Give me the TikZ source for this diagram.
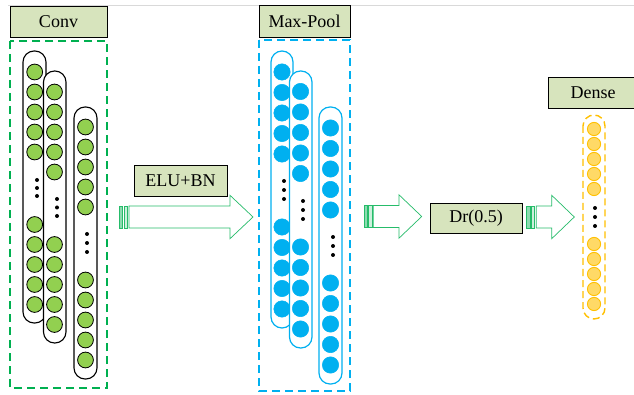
\documentclass[tikz,border=0pt]{standalone}
\usepackage{fontspec}
\setmainfont{Liberation Serif}
\definecolor{tagfill}{HTML}{D7E4BD}
\definecolor{neurgreen}{HTML}{92D050}
\definecolor{framegreen}{HTML}{00B050}
\definecolor{neurblue}{HTML}{00B0F0}
\definecolor{frameyellow}{HTML}{FFC000}
\definecolor{neuryellow}{HTML}{FFD966}
\definecolor{rulegray}{HTML}{D9D9D9}

% striped block arrow: #1 stripe start, #2 body start, #3 head base, #4 tip, #5 centre line
\newcommand{\stripedarrow}[5]{%
  \draw[blockarrow, fill=framegreen!45] (#1,#5-11) rectangle ++(3.4,22);
  \draw[blockarrow, fill=framegreen!20] (#1+4.7,#5-11) rectangle ++(3.4,22);
  \draw[blockarrow] (#2,#5-11) -- (#3,#5-11) -- (#3,#5-21.7) -- (#4,#5)
    -- (#3,#5+21.7) -- (#3,#5+11) -- (#2,#5+11) -- cycle;
}

\begin{document}
\begin{tikzpicture}[x=1pt,y=-1pt,
  tagbox/.style={draw=black, line width=0.9pt, fill=tagfill, inner sep=0pt,
    font=\fontsize{18}{20}\selectfont},
  gpill/.style={draw=black, line width=1.1pt, fill=white, rounded corners=11pt},
  bpill/.style={draw=neurblue, line width=1.2pt, fill=white, rounded corners=11pt},
  ypill/.style={draw=frameyellow, line width=1.4pt, dash pattern=on 7pt off 4pt, rounded corners=11pt},
  gcirc/.style={draw=black, line width=0.8pt, fill=neurgreen},
  bcirc/.style={draw=neurblue, line width=0.5pt, fill=neurblue},
  ycirc/.style={draw=frameyellow, line width=0.9pt, fill=neuryellow},
  gframe/.style={draw=framegreen, line width=1.3pt, dash pattern=on 8pt off 5pt},
  bframe/.style={draw=neurblue, line width=1.3pt, dash pattern=on 8pt off 5pt},
  blockarrow/.style={draw=framegreen!85, line width=0.7pt, fill=white, line join=miter},
  vdot/.style={fill=black}]

\useasboundingbox (0,0) rectangle (634,395);
\fill[white] (0,0) rectangle (634,395);
\draw[rulegray, line width=0.8pt] (8,5) -- (634,5);

% ---------- convolution block ----------
\draw[gframe] (10,41) rectangle (107,388);
\node[tagbox, minimum width=97pt, minimum height=31pt] (conv) at (58.5,21.5) {Conv};

\draw[gpill] (23,51) rectangle (46,323);
\foreach \y in {72,92,...,152} \draw[gcirc] (34.7,\y) circle[radius=7.9pt];
\foreach \y in {224.5,244.5,...,304.5} \draw[gcirc] (34.7,\y) circle[radius=7.9pt];
\foreach \y in {180,188,196} \fill[vdot] (37,\y) circle[radius=2pt];

\draw[gpill] (43.5,71) rectangle (66,343);
\foreach \y in {92,112,...,172} \draw[gcirc] (54.5,\y) circle[radius=7.9pt];
\foreach \y in {244.5,264.5,...,324.5} \draw[gcirc] (54.5,\y) circle[radius=7.9pt];
\foreach \y in {199,207.5,216} \fill[vdot] (57,\y) circle[radius=2pt];

\draw[gpill] (74,107) rectangle (97,379);
\foreach \y in {127,147,...,207} \draw[gcirc] (85.5,\y) circle[radius=7.9pt];
\foreach \y in {280,300,...,360} \draw[gcirc] (85.5,\y) circle[radius=7.9pt];
\foreach \y in {234,243,252} \fill[vdot] (87,\y) circle[radius=2pt];

% ---------- ELU + BN ----------
\node[tagbox, minimum width=93pt, minimum height=31pt] (elubn) at (180.5,180.5) {ELU+BN};
\stripedarrow{119.3}{129}{230}{253}{217}

% ---------- max-pooling block ----------
\draw[bframe] (259,40) rectangle (350,391);
\node[tagbox, minimum width=91pt, minimum height=32pt] (pool) at (304.5,21) {Max-Pool};

\draw[bpill] (271,51) rectangle (293,328);
\foreach \y in {72,92.5,...,154} \draw[bcirc] (282,\y) circle[radius=8.2pt];
\foreach \y in {227,247.5,...,309} \draw[bcirc] (282,\y) circle[radius=8.2pt];
\foreach \y in {181,190,199} \fill[vdot] (284,\y) circle[radius=2pt];

\draw[bpill] (289.5,71) rectangle (312,348);
\foreach \y in {91.5,112,...,174} \draw[bcirc] (300.5,\y) circle[radius=8.2pt];
\foreach \y in {247,267.5,...,329} \draw[bcirc] (300.5,\y) circle[radius=8.2pt];
\foreach \y in {201,210,219} \fill[vdot] (303,\y) circle[radius=2pt];

\draw[bpill] (319,107) rectangle (342,384);
\foreach \y in {128,148.5,...,210} \draw[bcirc] (330.5,\y) circle[radius=8.2pt];
\foreach \y in {283,303.5,...,365} \draw[bcirc] (330.5,\y) circle[radius=8.2pt];
\foreach \y in {237,246,255} \fill[vdot] (333,\y) circle[radius=2pt];

% ---------- dropout ----------
\stripedarrow{364}{373.3}{399}{421.7}{216.5}
\node[tagbox, minimum width=92pt, minimum height=30pt] (drop) at (476,218) {Dr(0.5)};
\stripedarrow{526.7}{536.3}{551.7}{574.3}{217}

% ---------- dense layer ----------
\node[tagbox, minimum width=90pt, minimum height=31pt] (dense) at (593,92.5) {Dense};
\draw[ypill] (583,115) rectangle (605,319);
\foreach \y in {129,144,...,189} \draw[ycirc] (594,\y) circle[radius=6.6pt];
\foreach \y in {244,259,...,304} \draw[ycirc] (594,\y) circle[radius=6.6pt];
\foreach \y in {208,217,226} \fill[vdot] (595,\y) circle[radius=2pt];

\end{tikzpicture}
\end{document}
